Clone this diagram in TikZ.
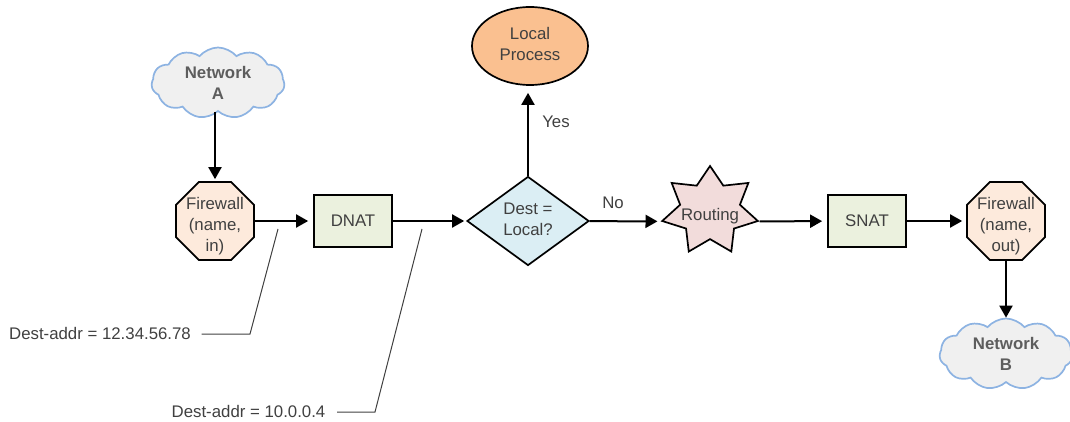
\documentclass[tikz,border=0pt]{standalone}
\usepackage{fontspec}
\setmainfont{Liberation Sans}
\usetikzlibrary{shapes.geometric, shapes.symbols, arrows.meta}
\definecolor{txt}{HTML}{404040}
\definecolor{cloudline}{HTML}{8DB3E2}
\definecolor{cloudfill}{HTML}{F0F0F0}
\definecolor{fwfill}{HTML}{FDEADC}
\definecolor{natfill}{HTML}{EBF1DE}
\definecolor{askfill}{HTML}{DBEEF4}
\definecolor{procfill}{HTML}{FAC090}
\definecolor{routefill}{HTML}{F2DCDB}

\begin{document}
\begin{tikzpicture}[x=1pt, y=1pt, line width=1.7pt, font=\fontsize{16.8}{21}\selectfont, text=txt,
    net/.style = {draw=cloudline, fill=cloudfill, cloud, cloud puffs=11, cloud puff arc=100, aspect=1.9, minimum width=133pt, minimum height=71pt, inner sep=0pt, align=center, text=txt!85, font=\fontsize{16.8}{21}\selectfont\bfseries},
    fw/.style = {draw, fill=fwfill, regular polygon, regular polygon sides=8, minimum size=84.4pt, inner sep=0pt},
    fwtext/.style = {align=center, yshift=-5.5pt, inner sep=0pt},
    nat/.style = {draw, fill=natfill, minimum width=78pt, minimum height=52pt, inner sep=0pt},
    ask/.style = {draw, fill=askfill, diamond, minimum width=122pt, minimum height=89pt, inner sep=0pt},
    proc/.style = {draw, fill=procfill, ellipse, minimum width=116pt, minimum height=78pt, inner sep=0pt},
    route/.style = {draw, fill=routefill, star, star points=7, star point ratio=1.6, minimum size=90pt, inner sep=0pt, xscale=1.09, transform shape},
    addr/.style = {inner sep=0pt},
    lead/.style = {line width=1pt, draw=txt},
    flow/.style = {-{Triangle[length=12pt, width=13pt]}, line width=2pt, black},
    node distance = 138pt]
    \useasboundingbox (0,0) rectangle (1070,-422);
    \node[fw, label={[fwtext]center:Firewall\\(name,\\in)}] (1) at (215,-221) {};
    \node[nat] (2) [right of=1] {DNAT};
    \node[ask, label={[align=center, yshift=1.5pt]center:Dest =\\Local?}] (3) [right of=2, node distance=175pt] {};
    \node[route, label={[yshift=-5pt]center:Routing}] (4) [right of=3, node distance=167pt, yshift=10pt] {};
    \node[nat] (5) [right of=3, node distance=339pt] {SNAT};
    \node[fw, label={[fwtext]center:Firewall\\(name,\\out)}] (6) [right of=5, node distance=139pt] {};
    \node[net] (7) [above of=1, node distance=138pt, xshift=3pt] {Network\\A};
    \node[net] (8) [below of=6, node distance=133pt] {Network\\B};
    \node[proc, label={[align=center, yshift=2pt]center:Local\\Process}] (9) [above of=3, node distance=175pt, xshift=2pt] {};
    \node[addr] (10) at (100,-333) {Dest-addr = 12.34.56.78};
    \node[addr] (11) at (248.5,-411) {Dest-addr = 10.0.0.4};
    \node[addr] (14) at (556,-122) {Yes};
    \node[addr] (15) at (613,-203) {No};
    \coordinate (12) at (278,-229);
    \coordinate (13) at (422,-229);
    \draw[flow, shorten >=2pt] (1 |- 7.south) -- (1.north);
    \draw[flow, shorten >=5pt] (1) -- (2);
    \draw[flow, shorten >=2pt] (2) -- (3);
    \draw[flow, shorten >=7pt] (3.north) -- (3 |- 9.south);
    \draw[flow, shorten >=3pt] (3) -- (4.outer point 3);
    \draw[flow, shorten >=5pt] (4.outer point 6) -- (5);
    \draw[flow, shorten >=4pt] (5) -- (6);
    \draw[flow] (6) -- (8);
    \draw[lead] (10.east) ++(10pt,-1pt) -- (250,-334) -- (12);
    \draw[lead] (11.east) ++(11pt,-1pt) -- (375,-412) -- (13);
\end{tikzpicture}
\end{document}
